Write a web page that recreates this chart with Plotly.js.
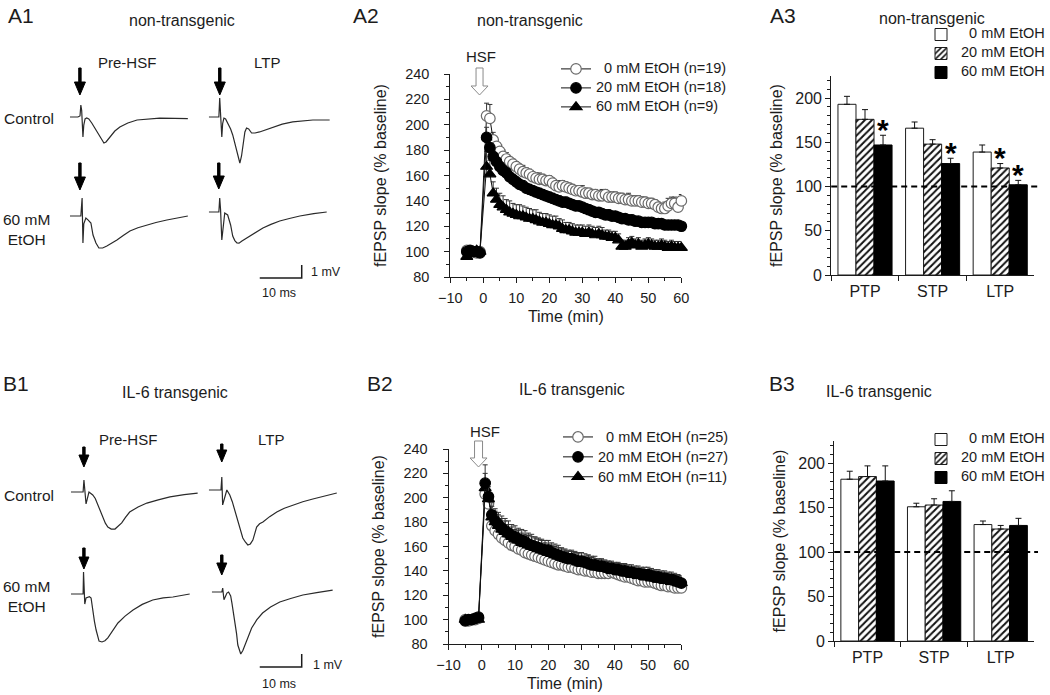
<!DOCTYPE html>
<html><head><meta charset="utf-8">
<script src="https://cdn.plot.ly/plotly-3.0.1.min.js"></script>
<style>html,body{margin:0;padding:0;background:#fff}#chart{width:1050px;height:695px}</style>
</head><body><div id="chart"></div>
<script>
// ---------------- DATA ----------------
const timeMin = [-5,-4,-3,-2,-1,1,2,3,4,5,6,7,8,9,10,11,12,13,14,15,16,17,18,19,20,21,22,23,24,25,26,27,28,29,30,31,32,33,34,35,36,37,38,39,40,41,42,43,44,45,46,47,48,49,50,51,52,53,54,55,56,57,58,59,60];

// A2 non-transgenic, fEPSP slope (% baseline)
const a2Eth0  = [101,100,100,99,100, 207,205,188,183,179,175,173,171,169,167, 165,163,162,161,159,158,157,157,156,156, 154,152,151,152,151,150,149,148,148,147, 146,146,145,145,144,144,145,143,143,143, 142,142,141,141,140,140,140,139,139,138, 138,137,135,134,134,136,138,138,135,140];
const a2Eth20 = [100,101,100,100,99, 190,182,175,171,167,164,162,159,157,155, 153,152,150,149,148,147,146,145,144,143, 142,141,140,139,139,138,137,136,136,135, 134,133,132,131,131,130,129,129,128,128, 127,126,126,125,125,124,124,123,123,123, 123,122,122,122,121,121,121,121,121,120];
const a2Eth60 = [96,99,100,101,100, 167,161,146,141,137,135,133,131,130,129, 128,128,127,126,126,125,124,123,123,122, 121,121,120,118,117,117,116,115,115,115, 114,115,114,113,114,113,112,112,111,111, 109,104,104,106,107,105,106,104,105,106, 105,104,104,105,104,103,104,103,103,103];
const a2Err0  = [2,2,3,2,2, 10,11,6,5,5,5,5,4,4,4, 4,5,4,4,4,4,5,4,4,4, 4,4,5,4,4,4,4,4,4,5, 4,4,4,4,4,5,4,4,4,4, 4,4,4,5,4,4,4,4,4,4, 4,4,4,4,5,6,5,5,5,5];
const a2Err20 = [2,2,2,2,2, 8,6,5,5,4,4,4,4,4,4, 4,4,3,4,4,3,4,4,3,4, 4,3,4,3,4,3,3,4,3,3, 3,4,3,3,3,3,3,4,3,3, 3,3,3,3,4,3,3,3,3,3, 3,3,3,3,3,3,3,3,3,3];
const a2Err60 = [3,3,2,2,3, 12,11,9,9,9,9,8,9,8,8, 9,8,8,8,7,8,7,7,7,7, 7,7,6,7,6,6,6,6,6,6, 6,6,6,6,6,6,5,5,5,5, 5,5,5,5,5,5,5,5,5,5, 5,5,5,5,5,5,5,5,5,5];
const a2Names = ['\u00a0\u00a00 mM EtOH (n=19)', '20 mM EtOH (n=18)', '60 mM EtOH (n=9)'];

// B2 IL-6 transgenic
const b2Eth0  = [100,99,100,100,101, 203,195,177,173,170,167,165,163,161,160, 158,157,155,154,153,152,151,150,149,148, 147,146,145,145,144,143,143,142,141,141, 140,140,139,139,138,138,138,138,139,138, 137,136,135,135,134,133,132,132,131,131, 131,130,129,128,128,127,127,126,126,126];
const b2Eth20 = [99,100,100,101,102, 212,201,186,181,178,175,173,171,169,168, 166,165,164,162,161,160,159,158,157,157, 155,154,153,152,151,150,150,149,148,148, 147,146,145,145,144,144,143,142,142,141, 141,140,140,139,139,138,138,137,137,137, 136,135,135,134,134,133,133,132,131,130];
const b2Eth60 = [100,99,100,101,100, 208,199,184,180,177,174,172,170,168,166, 165,163,162,161,160,159,158,157,156,155, 154,153,152,151,150,149,149,148,147,146, 146,147,145,144,143,143,142,142,141,140, 140,139,139,138,137,137,136,136,135,135, 134,134,133,133,132,132,131,131,130,130];
const b2Err0  = [2,2,2,2,2, 6,5,4,4,3,3,3,3,3,3, 3,3,3,3,3,3,3,3,3,3, 3,3,3,3,3,3,3,3,3,3, 3,3,3,3,3,3,3,3,3,3, 3,3,3,3,3,3,3,3,3,3, 3,3,3,3,3,3,3,3,3,3];
const b2Err20 = [2,2,2,2,3, 15,12,10,10,10,10,10,10,9,9, 9,9,9,9,9,8,8,8,8,8, 8,8,8,7,7,7,7,7,7,7, 7,7,7,7,6,6,6,6,6,6, 6,6,6,6,6,6,6,6,6,6, 6,6,6,6,6,6,6,6,6,6];
const b2Err60 = [2,2,2,2,2, 12,10,9,9,9,9,9,8,8,8, 8,8,8,8,8,8,8,8,7,7, 7,7,7,7,7,7,7,7,7,6, 6,6,6,6,6,6,6,6,6,6, 6,6,6,6,6,6,6,6,6,6, 6,6,6,6,6,6,6,6,6,6];
const b2Names = ['\u00a0\u00a00 mM EtOH (n=25)', '20 mM EtOH (n=27)', '60 mM EtOH (n=11)'];

// A3 / B3 bar summaries
const phases = ['PTP', 'STP', 'LTP'];
const barNames = ['\u00a0\u00a00 mM EtOH', '20 mM EtOH', '60 mM EtOH'];
const a3Eth0 = [193, 166, 139], a3Err0 = [9, 7, 8];
const a3Eth20 = [176, 148, 121], a3Err20 = [11, 5, 5];
const a3Eth60 = [147, 126, 102], a3Err60 = [11, 6, 5];
const a3Sig20 = [false, false, true];
const a3Sig60 = [true, true, true];
const b3Eth0 = [182, 151, 131], b3Err0 = [9, 4, 4];
const b3Eth20 = [185, 153, 126], b3Err20 = [12, 7, 4];
const b3Eth60 = [180, 157, 130], b3Err60 = [17, 12, 8];
const baselinePct = 100;

// A1 / B1 example fEPSP traces: time (ms) and voltage (mV, relative to baseline)
const a1CtrlPreT = [0,1.9,2.4,2.6,2.8,3.1,3.3,3.6,4.0,4.5,5.2,6.2,7.1,7.7,8.1,8.6,9.5,10.7,11.9,13.8,16.0,19.0,21.4,25.0,28.1];
const a1CtrlPreV = [0,0,0.08,0.92,0.5,-1.54,-0.62,-0.15,-0.08,-0.15,-0.46,-1.0,-1.54,-1.85,-2.0,-1.92,-1.54,-1.08,-0.77,-0.46,-0.23,-0.12,-0.08,-0.1,-0.12];
const a1CtrlLtpT = [0,2.4,2.6,2.8,3.1,3.3,3.6,4.0,4.5,5.2,5.7,6.2,6.7,7.1,7.4,7.8,8.1,8.6,9.0,9.5,10.2,11.0,12.1,13.5,15.2,17.5,20,24.8,28.8];
const a1CtrlLtpV = [0,0,1.46,0.3,-1.54,-0.5,-0.08,-0.15,-0.46,-0.92,-1.38,-2.0,-2.69,-3.2,-3.54,-3.0,-2.15,-1.15,-0.85,-0.92,-1.23,-1.23,-1.15,-1.0,-0.77,-0.55,-0.38,-0.23,-0.23];
const a1EtohPreT = [0,2.6,2.9,3.1,3.3,3.8,4.3,5.0,5.5,6.2,6.9,7.8,8.8,10.0,11.2,12.7,14.3,16.2,18.3,20.5,23.1,25.5,28.1];
const a1EtohPreV = [0,0,1.38,-2.08,-0.6,-0.15,-0.3,-0.54,-1.46,-2.08,-2.46,-2.46,-2.31,-2.1,-1.85,-1.5,-1.15,-0.9,-0.69,-0.5,-0.31,-0.15,0];
const a1EtohLtpT = [0,2.4,2.6,2.8,3.1,3.8,4.5,5.2,5.7,6.2,6.7,7.2,7.9,8.8,9.8,11.2,12.9,14.8,16.9,19.2,21.7,25,28.1];
const a1EtohLtpV = [0,0,1.08,0.2,-2.15,-0.08,-0.23,-1.0,-1.85,-2.2,-2.38,-2.4,-2.23,-2.05,-1.85,-1.55,-1.23,-0.95,-0.69,-0.5,-0.31,-0.12,0];
const b1CtrlPreT = [0,2.9,3.1,3.4,3.6,4.3,5.2,5.8,6.4,7.0,7.6,8.2,8.8,9.6,10.5,11.3,12.1,13.0,14.0,16.0,18.1,20.8,23.6,27.0,30.2];
const b1CtrlPreV = [0,0,0.92,0,-0.92,0,-0.23,-0.5,-1.0,-1.5,-2.0,-2.4,-2.69,-2.85,-2.85,-2.65,-2.38,-1.95,-1.54,-1.15,-0.85,-0.6,-0.38,-0.2,-0.08];
const b1CtrlLtpT = [0,2.9,3.1,3.2,3.3,4.3,5.0,5.6,6.2,6.8,7.4,8.1,8.7,9.3,9.9,10.5,11.0,11.4,12.1,12.9,14.5,16.2,18,20,22.4,24.8,27.5,30.5];
const b1CtrlLtpV = [0,0,1.0,0,-1.15,0,-0.38,-0.9,-1.54,-2.2,-2.92,-3.69,-4.0,-4.23,-4.15,-3.85,-3.3,-2.85,-2.6,-2.46,-2.05,-1.69,-1.4,-1.15,-0.9,-0.69,-0.45,-0.23];
const b1EtohPreT = [0,2.9,3.0,3.1,3.3,3.6,4.0,4.4,4.8,5.2,5.6,6.0,6.4,6.7,7.4,8.1,8.8,10.0,11.2,12.9,14.8,17.0,19.5,22,24.3,28.3];
const b1EtohPreV = [0,0,1.69,0.5,-0.77,-0.3,-0.23,-0.2,-0.31,-1.38,-2.1,-2.77,-3.3,-3.62,-3.69,-3.6,-3.38,-2.85,-2.23,-1.7,-1.23,-0.8,-0.46,-0.3,-0.23,0];
const b1EtohLtpT = [0,2.4,2.6,2.9,3.3,3.6,4.0,4.5,4.8,5.2,5.5,5.9,6.2,6.6,6.9,7.4,7.9,8.6,9.5,10.7,12.1,14.0,16.2,18.8,21.7,25,28.8];
const b1EtohLtpV = [0,0,0.3,-0.6,-0.3,-0.08,0,-0.3,-0.85,-1.6,-2.31,-3.2,-4.08,-4.6,-4.77,-4.5,-4.08,-3.4,-2.77,-2.15,-1.62,-1.15,-0.77,-0.5,-0.23,-0.05,0.15];
const scaleBarMs = 10, scaleBarMv = 1;

// ---------------- LAYOUT HELPERS ----------------
const W = 1050, H = 695;
const X = p => p / W, Y = p => 1 - p / H;
const FONT = 'Liberation Sans, Arial, Helvetica, sans-serif';
const INK = '#1c1c1c';
const PX_MS = 4.2, PX_MV = 13;   // trace scale (px per ms, px per mV)
const T_RANGE = [0, 32], V_RANGE = [-6, 2.5];

const data = [];
const layout = {
  width: W, height: H, margin: {l: 0, r: 0, t: 0, b: 0},
  paper_bgcolor: '#ffffff', plot_bgcolor: 'rgba(0,0,0,0)',
  font: {family: FONT, color: INK},
  barmode: 'group', bargap: 0.2, bargroupgap: 0,
  annotations: [], shapes: [], showlegend: true
};
const xk = n => n === 1 ? 'xaxis' : 'xaxis' + n;
const yk = n => n === 1 ? 'yaxis' : 'yaxis' + n;
const xr = n => n === 1 ? 'x' : 'x' + n;
const yr = n => n === 1 ? 'y' : 'y' + n;

function axisBase() {
  return {showline: true, linecolor: INK, linewidth: 1, ticks: 'outside', ticklen: 5, tickwidth: 1,
          tickcolor: INK, showgrid: false, zeroline: false, fixedrange: true};
}

function text(t, px, py, size, xanchor, extra) {
  layout.annotations.push(Object.assign({text: t, x: X(px), y: Y(py), xref: 'paper', yref: 'paper',
    showarrow: false, xanchor: xanchor || 'center', yanchor: 'middle',
    font: {family: FONT, size: size, color: INK}}, extra || {}));
}

function arrow(cx, top, tip, shaftW, headW, headL, fill, outline) {
  const hs = tip - headL;
  const pts = [[cx - shaftW / 2, top], [cx + shaftW / 2, top], [cx + shaftW / 2, hs], [cx + headW / 2, hs],
               [cx, tip], [cx - headW / 2, hs], [cx - shaftW / 2, hs]];
  layout.shapes.push({type: 'path', xref: 'paper', yref: 'paper',
    path: 'M' + pts.map(p => X(p[0]).toFixed(5) + ',' + Y(p[1]).toFixed(5)).join('L') + 'Z',
    fillcolor: fill, line: {color: outline, width: 1}});
}

// ---------- time-course panels ----------
function timePanel(n, x0, x1, yTop, yBot) {
  layout[xk(n)] = Object.assign(axisBase(), {
    domain: [X(x0), X(x1)], anchor: yr(n), range: [-10, 60], tick0: 0, dtick: 10,
    minor: {dtick: 5, ticks: 'outside', ticklen: 3, tickcolor: INK},
    tickfont: {size: 14.5}, ticklabelstandoff: 3,
    title: {text: 'Time (min)', font: {size: 16}, standoff: 5}
  });
  layout[yk(n)] = Object.assign(axisBase(), {
    domain: [Y(yBot), Y(yTop)], anchor: xr(n), range: [80, 240], tick0: 80, dtick: 20,
    minor: {dtick: 10, ticks: 'outside', ticklen: 3, tickcolor: INK},
    tickfont: {size: 14.5}, ticklabelstandoff: 12,
    title: {text: 'fEPSP slope (% baseline)', font: {size: 16}, standoff: 14}
  });
}
const seriesStyle = [
  {symbol: 'circle', color: '#ffffff', line: '#6a6a6a', size: 10.5},
  {symbol: 'circle', color: '#000000', line: '#000000', size: 10.5},
  {symbol: 'triangle-up', color: '#000000', line: '#000000', size: 10.5}
];
function timeSeries(n, legendId, ys, errs, names, order, spanSize) {
  order.forEach(i => {
    const st = seriesStyle[i];
    data.push({
      type: 'scatter', mode: 'lines+markers', x: timeMin, y: ys[i], xaxis: xr(n), yaxis: yr(n),
      name: '<span style="font-size:' + spanSize + 'px">' + names[i] + '</span>',
      legend: legendId, legendrank: i + 1, cliponaxis: false,
      line: {color: '#111', width: 1},
      marker: {symbol: st.symbol, color: st.color, size: st.size, line: {color: st.line, width: 1.2}},
      error_y: {type: 'data', symmetric: false, array: errs[i], arrayminus: errs[i].map(() => 0),
                color: '#333', thickness: 1, width: 2.5}
    });
  });
}

// ---------- bar panels ----------
function barPanel(n, x0, x1, yTop, yBot) {
  layout[xk(n)] = Object.assign(axisBase(), {
    domain: [X(x0), X(x1)], anchor: yr(n), type: 'category', range: [-0.5, 2.5],
    tickson: 'boundaries', tickfont: {size: 16}, ticklabelstandoff: 2
  });
  layout[yk(n)] = Object.assign(axisBase(), {
    domain: [Y(yBot), Y(yTop)], anchor: xr(n), range: [0, 225], tick0: 0, dtick: 50,
    minor: {dtick: 10, ticks: 'outside', ticklen: 3, tickcolor: INK},
    tickfont: {size: 16},
    title: {text: 'fEPSP slope (% baseline)', font: {size: 16}, standoff: 8}
  });
  layout.shapes.push({type: 'line', xref: xr(n) + ' domain', yref: yr(n), x0: 0, x1: 1.02,
    y0: baselinePct, y1: baselinePct, line: {color: '#000', width: 2, dash: '6px,4px'}});
}
const barStyles = [
  {color: '#ffffff', line: {color: INK, width: 1}},
  {color: '#ffffff', line: {color: INK, width: 1},
   pattern: {shape: '/', fgcolor: '#111', bgcolor: '#ffffff', size: 5, solidity: 0.4}},
  {color: '#000000', line: {color: '#000', width: 1}}
];
function barSeries(n, legendId, vals, errs, sigs) {
  vals.forEach((v, i) => {
    data.push({
      type: 'bar', x: phases, y: v, xaxis: xr(n), yaxis: yr(n), legend: legendId,
      name: '<span style="font-size:14.5px">' + barNames[i] + '</span>',
      marker: barStyles[i], cliponaxis: false,
      error_y: {type: 'data', symmetric: false, array: errs[i], arrayminus: errs[i].map(() => 0),
                color: '#111', thickness: 1, width: 3}
    });
  });
  const w = (1 - layout.bargap) / 3;
  sigs.forEach((sig, i) => {
    if (!sig) return;
    sig.forEach((s, c) => {
      if (!s) return;
      layout.annotations.push({text: '<b>*</b>', xref: xr(n), yref: yr(n),
        x: c + (i - 1) * w, y: vals[i][c] + errs[i][c], showarrow: false,
        xanchor: 'center', yanchor: 'middle', yshift: 6, font: {family: FONT, size: 30, color: '#000'}});
    });
  });
}

// ---------- trace panels ----------
function tracePanel(n, x0, basePy, t, v) {
  const w = (T_RANGE[1] - T_RANGE[0]) * PX_MS;
  const botPy = basePy - V_RANGE[0] * PX_MV;   // lower edge (most negative mV)
  const topPy = basePy - V_RANGE[1] * PX_MV;   // upper edge
  layout[xk(n)] = {domain: [X(x0), X(x0 + w)], anchor: yr(n), range: T_RANGE, visible: false, fixedrange: true};
  layout[yk(n)] = {domain: [Y(botPy), Y(topPy)], anchor: xr(n), range: V_RANGE, visible: false, fixedrange: true};
  data.push({type: 'scatter', mode: 'lines', x: t, y: v, xaxis: xr(n), yaxis: yr(n), showlegend: false,
             hoverinfo: 'skip', cliponaxis: false, line: {color: '#2a2a2a', width: 1.2}});
}
function scaleBar(n, x0, basePy, leftPx, barPy) {
  const t0 = (leftPx - x0) / PX_MS, v0 = (basePy - barPy) / PX_MV;
  layout.shapes.push({type: 'path', xref: xr(n), yref: yr(n),
    path: 'M' + t0 + ',' + v0 + 'L' + (t0 + scaleBarMs) + ',' + v0 + 'L' + (t0 + scaleBarMs) + ',' + (v0 + scaleBarMv),
    line: {color: INK, width: 1.5}});
}

// ================= BUILD =================
// A1
tracePanel(5, 70, 117, a1CtrlPreT, a1CtrlPreV);
tracePanel(6, 209, 117, a1CtrlLtpT, a1CtrlLtpV);
tracePanel(7, 70, 216, a1EtohPreT, a1EtohPreV);
tracePanel(8, 209, 212, a1EtohLtpT, a1EtohLtpV);
scaleBar(8, 209, 212, 260, 278);
// B1
tracePanel(9, 71, 492, b1CtrlPreT, b1CtrlPreV);
tracePanel(10, 209, 490, b1CtrlLtpT, b1CtrlLtpV);
tracePanel(11, 71, 594, b1EtohPreT, b1EtohPreV);
tracePanel(12, 212, 592, b1EtohLtpT, b1EtohLtpV);
scaleBar(12, 212, 592, 260, 667);

// A2 / B2
timePanel(1, 450.7, 682, 74, 277);
timeSeries(1, 'legend', [a2Eth0, a2Eth20, a2Eth60], [a2Err0, a2Err20, a2Err60], a2Names, [0, 2, 1], 14.5);
timePanel(3, 449, 682, 449, 644);
timeSeries(3, 'legend2', [b2Eth0, b2Eth20, b2Eth60], [b2Err0, b2Err20, b2Err60], b2Names, [0, 2, 1], 14.5);

// A3 / B3
barPanel(2, 832, 1035, 76, 275);
barSeries(2, 'legend3', [a3Eth0, a3Eth20, a3Eth60], [a3Err0, a3Err20, a3Err60], [null, a3Sig20, a3Sig60]);
barPanel(4, 835, 1035, 441, 641);
barSeries(4, 'legend4', [b3Eth0, b3Eth20, b3Eth60], [b3Err0, b3Err20, b3Err60], [null, null, null]);

// legends
const legBase = {bgcolor: 'rgba(0,0,0,0)', borderwidth: 0, xanchor: 'left', yanchor: 'top', traceorder: 'normal'};
layout.legend  = Object.assign({}, legBase, {x: X(556), y: Y(54.4), font: {family: FONT, size: 11, color: INK}});
layout.legend2 = Object.assign({}, legBase, {x: X(558), y: Y(422), font: {family: FONT, size: 13, color: INK}});
layout.legend3 = Object.assign({}, legBase, {x: X(922), y: Y(20), font: {family: FONT, size: 10, color: INK}});
layout.legend4 = Object.assign({}, legBase, {x: X(922), y: Y(425), font: {family: FONT, size: 10, color: INK}});

// arrows (stimulus) A1/B1
arrow(80, 68, 95, 2.4, 11, 13, '#000', '#000');
arrow(220, 68, 95, 2.4, 11, 13, '#000', '#000');
arrow(80, 163, 190, 2.4, 11, 13, '#000', '#000');
arrow(219, 163, 189, 2.4, 11, 13, '#000', '#000');
arrow(84, 447, 467, 2.4, 10, 12, '#000', '#000');
arrow(222, 444, 462, 2.4, 10, 12, '#000', '#000');
arrow(84, 548, 569, 2.4, 10, 12, '#000', '#000');
arrow(222, 555, 575, 2.4, 10, 12, '#000', '#000');
// HSF hollow arrows
arrow(480, 68, 95, 7, 17, 9, '#ffffff', '#8a8a8a');
arrow(479, 441, 467, 8, 17, 9, '#ffffff', '#8a8a8a');

// text: A row
text('A1', 6, 16, 21, 'left');
text('non-transgenic', 182, 20, 16);
text('Pre-HSF', 127, 62, 15);
text('LTP', 267, 62, 15);
text('Control', 2, 118, 15.5, 'left');
text('60 mM<br>EtOH', 27, 229, 15.5);
text('1 mV', 309, 272, 12.5, 'left');
text('10 ms', 260, 293, 12.5, 'left');
text('A2', 351, 16, 21, 'left');
text('non-transgenic', 531, 20, 16);
text('HSF', 481, 57, 15);
text('A3', 769, 16, 21, 'left');
text('non-transgenic', 933, 18, 16);
// text: B row
text('B1', 1, 383, 21, 'left');
text('IL-6 transgenic', 175, 392, 16);
text('Pre-HSF', 128, 440, 15);
text('LTP', 271, 440, 15);
text('Control', 2, 495, 15.5, 'left');
text('60 mM<br>EtOH', 27, 596, 15.5);
text('1 mV', 311, 665, 12.5, 'left');
text('10 ms', 260, 684, 12.5, 'left');
text('B2', 365, 383, 21, 'left');
text('IL-6 transgenic', 573, 390, 16);
text('HSF', 485, 431, 15);
text('B3', 768, 383, 21, 'left');
text('IL-6 transgenic', 880, 391, 16);

Plotly.newPlot('chart', data, layout, {staticPlot: true, displayModeBar: false});
</script>
</body></html>
